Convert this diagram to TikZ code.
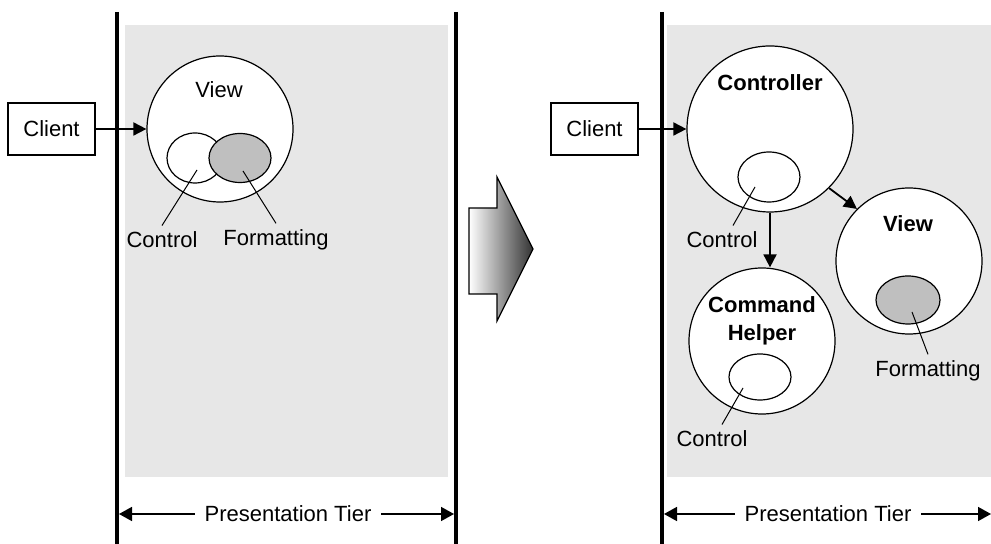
\documentclass[tikz,border=0pt]{standalone}
\usepackage{fontspec}
\setmainfont{Liberation Sans}
\usetikzlibrary{arrows.meta,shapes.geometric}

\begin{document}
\begin{tikzpicture}[x=0.5pt,y=-0.5pt,
	every node/.style={font=\fontsize{11}{14}\selectfont, inner sep=1pt},
	panel/.style={fill=black!9.5},
	tier/.style={line width=1.6pt},
	box/.style={draw, fill=white, line width=0.9pt, minimum width=43.5pt, minimum height=26pt},
	part/.style={circle, draw, fill=white, line width=0.6pt, inner sep=0pt},
	piece/.style={ellipse, draw, line width=0.6pt, inner sep=0pt},
	title/.style={font=\fontsize{11}{14}\selectfont\bfseries, align=center},
	flow/.style={-{Triangle[length=6.5pt,width=6.5pt]}, line width=0.9pt},
	pin/.style={line width=0.5pt},
	span/.style={{Triangle[length=6.5pt,width=7pt]}-{Triangle[length=6.5pt,width=7pt]}, line width=0.8pt}]
	\useasboundingbox (0,0) rectangle (991,544);
	\fill [panel] (125,25) rectangle (448,477);
	\fill [panel] (667,25) rectangle (991,477);
	\draw [tier] (117,12) -- (117,544);
	\draw [tier] (456,12) -- (456,544);
	\draw [tier] (662,12) -- (662,544);
	\shade [left color=white, right color=black!80, draw=black, line width=0.6pt]
		(469,208) -- (497,208) -- (497,177) -- (533,249) -- (497,321) -- (497,294) -- (469,294) -- cycle;
	% before
	\node [box] (clientA) at (51.5,129) {Client};
	\node [part, minimum size=73pt] (viewA) at (220,129) {};
	\node (viewAtext) at (219,90) {View};
	\node [piece, fill=white, minimum width=28pt, minimum height=25pt] (ctrlA) at (195,158) {};
	\node [piece, fill=black!25, minimum width=31pt, minimum height=24.5pt] (fmtA) at (240,158) {};
	\node (ctrlAtext) at (162,240) {Control};
	\node (fmtAtext) at (276,240) {Formatting};
	\coordinate (ctrlApin) at (197,170);
	\coordinate (fmtApin) at (243,171);
	\draw [pin] (ctrlApin) -- ([yshift=2pt]ctrlAtext.north);
	\draw [pin] (fmtApin) -- ([yshift=2pt]fmtAtext.north);
	\draw [flow] (clientA) -- (viewA);
	\coordinate (tierAl) at (119,514);
	\coordinate (tierAr) at (454,514);
	\draw [span] (tierAl) -- (tierAr);
	\node [fill=white, inner xsep=5pt] (tierAtext) at (288,514) {Presentation Tier};
	% after
	\node [box] (clientB) at (594.5,129) {Client};
	\node [part, minimum size=83pt] (ctrlr) at (770,129) {};
	\node [title] (ctrlrtext) at (770,83) {Controller};
	\node [piece, fill=white, minimum width=31pt, minimum height=25pt] (ctrlB) at (769,177) {};
	\node (ctrlBtext) at (722,240) {Control};
	\coordinate (ctrlBpin) at (755,187);
	\draw [pin] (ctrlBpin) -- ([xshift=5.5pt,yshift=2pt]ctrlBtext.north);
	\node [part, minimum size=73pt] (helper) at (762,341) {};
	\node [title] (helpertext) at (762,321) {Command\\Helper};
	\node [piece, fill=white, minimum width=31pt, minimum height=23pt] (ctrlC) at (760,377) {};
	\node (ctrlCtext) at (712,439) {Control};
	\coordinate (ctrlCpin) at (743,388);
	\draw [pin] (ctrlCpin) -- ([xshift=5pt,yshift=2pt]ctrlCtext.north);
	\node [part, minimum size=73pt] (viewB) at (909,261) {};
	\node [title] (viewBtext) at (908,224) {View};
	\node [piece, fill=black!25, minimum width=32pt, minimum height=24pt] (fmtB) at (908,300) {};
	\node (fmtBtext) at (928,371) {Formatting};
	\coordinate (fmtBpin) at (912,312);
	\draw [pin] (fmtBpin) -- ([yshift=2pt]fmtBtext.north);
	\draw [flow] (clientB) -- (ctrlr);
	\draw [flow] (ctrlr.south) -- (ctrlr.south |- helper.north);
	\draw [flow] (ctrlr.-45) -- (viewB.135);
	\coordinate (tierBl) at (664,514);
	\coordinate (tierBr) at (991,514);
	\draw [span] (tierBl) -- (tierBr);
	\node [fill=white, inner xsep=5pt] (tierBtext) at (828,514) {Presentation Tier};
\end{tikzpicture}
\end{document}
